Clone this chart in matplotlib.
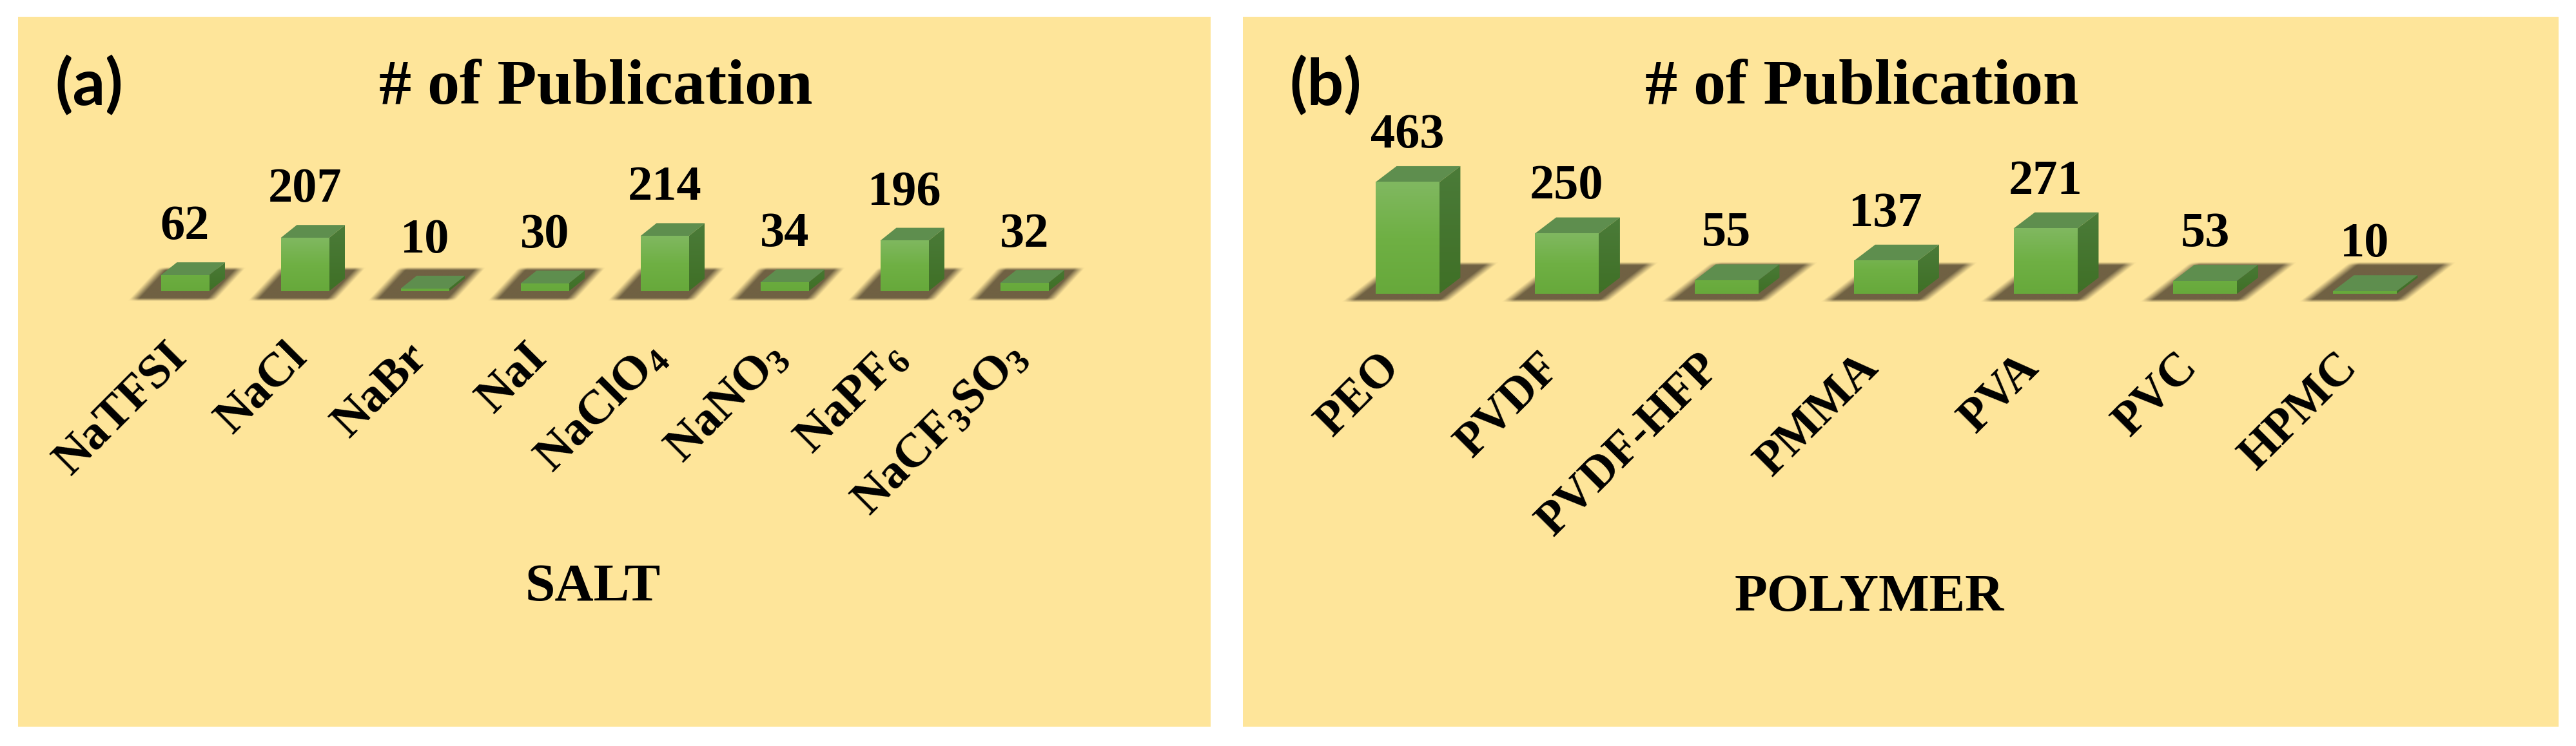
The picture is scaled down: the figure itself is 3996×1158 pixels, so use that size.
import numpy as np
import matplotlib
matplotlib.use('Agg')
import matplotlib.pyplot as plt
from matplotlib.colors import LinearSegmentedColormap, to_rgb
from matplotlib.patches import Polygon

W, H = 3996, 1158

# datos
salt_names = ['NaTFSI', 'NaCl', 'NaBr', 'NaI', r'NaClO$_{4}$', r'NaNO$_{3}$', r'NaPF$_{6}$', r'NaCF$_{3}$SO$_{3}$']
salt_counts = [62, 207, 10, 30, 214, 34, 196, 32]
polymer_names = ['PEO', 'PVDF', 'PVDF-HFP', 'PMMA', 'PVA', 'PVC', 'HPMC']
polymer_counts = [463, 250, 55, 137, 271, 53, 10]

plt.rcParams['font.family'] = ['Liberation Serif', 'DejaVu Serif']
plt.rcParams['font.weight'] = 'bold'
plt.rcParams['mathtext.default'] = 'regular'

PANEL = '#FEE59A'
TOP = '#5E8E4E'
SHADOW = '#6B5D40'
front_cmap = LinearSegmentedColormap.from_list('front', ['#67A93B', '#6FB044', '#80B860'])
side_cmap = LinearSegmentedColormap.from_list('side', ['#3F7026', '#4F7F3F'])

fig = plt.figure(figsize=(W / 100, H / 100), dpi=100, facecolor='white')


def draw_shadow(ax, i, shadow, blur_x, blur_y):
    # sombra difusa: paralelogramo con bordes suaves
    bl, br, tl, yb, yt = shadow
    shear = (tl - bl) / (yt - yb)
    xs = np.linspace(bl - blur_x, br + (yt - yb) * shear + blur_x, 160)
    ys = np.linspace(yt + blur_y, yb - blur_y, 90)
    xx, yy = np.meshgrid(xs, ys)
    u = xx - shear * (yy - yb)
    a_x = np.clip((u - bl + blur_x / 2) / blur_x, 0, 1) * np.clip((br - u + blur_x / 2) / blur_x, 0, 1)
    a_y = np.clip((yy - yb + blur_y / 2) / blur_y, 0, 1) * np.clip((yt - yy + blur_y / 2) / blur_y, 0, 1)
    img = np.zeros(xx.shape + (4,))
    img[..., :3] = to_rgb(SHADOW)
    img[..., 3] = 0.97 * a_x * a_y
    ax.imshow(img, extent=[i + xs[0], i + xs[-1], ys[-1], ys[0]], aspect='auto',
              interpolation='bilinear', zorder=1)


def draw_panel(names, counts, rect, x0, step, y0, scale, width, depth_x, depth_y,
               shadow, blur_x, blur_y, label_gap, tick_dx, tick_y, tick_size, value_size):
    left, top, right, bottom = rect
    ax = fig.add_axes([left / W, 1 - bottom / H, (right - left) / W, (bottom - top) / H])
    ax.set_facecolor(PANEL)
    for s in ax.spines.values():
        s.set_visible(False)
    ax.set_xticks([])
    ax.set_yticks([])

    for i, (name, v) in enumerate(zip(names, counts)):
        draw_shadow(ax, i, shadow, blur_x, blur_y)

        x1, x2 = i - width / 2, i + width / 2
        # cara superior
        ax.add_patch(Polygon([(x1, v), (x2, v), (x2 + depth_x, v + depth_y), (x1 + depth_x, v + depth_y)],
                             closed=True, facecolor=TOP, edgecolor='none', zorder=2))
        # cara lateral con degradado
        side = Polygon([(x2, 0), (x2 + depth_x, depth_y), (x2 + depth_x, v + depth_y), (x2, v)],
                       closed=True, facecolor='none', edgecolor='none', zorder=2)
        ax.add_patch(side)
        im = ax.imshow(np.linspace(0.75, 0, 64).reshape(-1, 1) * min(1, v / 100 + 0.3), cmap=side_cmap, vmin=0, vmax=1,
                       extent=[x2, x2 + depth_x, 0, v + depth_y], aspect='auto', zorder=2)
        im.set_clip_path(side)
        # cara frontal con degradado
        grad = np.linspace(min(1, v / 200), 0, 64).reshape(-1, 1)
        ax.imshow(grad, cmap=front_cmap, vmin=0, vmax=1, extent=[x1, x2, 0, v], aspect='auto', zorder=3)

        ax.text(i, v + depth_y + label_gap, str(v), ha='center', va='baseline', fontsize=value_size, zorder=4)
        ax.text(i + tick_dx, tick_y, name, rotation=45, rotation_mode='anchor', ha='right', va='baseline',
                fontsize=tick_size, zorder=4)

    ax.set_xlim((left - x0) / step, (right - x0) / step)
    ax.set_ylim((y0 - bottom) / scale, (y0 - top) / scale)
    return ax


draw_panel(salt_names, salt_counts, (28, 26, 1878, 1128), x0=287, step=186, y0=452, scale=0.4,
           width=0.403, depth_x=0.134, depth_y=50,
           shadow=(-0.43, 0.22, -0.19, -33, 88), blur_x=0.08, blur_y=12, label_gap=90,
           tick_dx=0.03, tick_y=-262, tick_size=54, value_size=55)
draw_panel(polymer_names, polymer_counts, (1928, 26, 3969, 1128), x0=2183, step=247.5, y0=456, scale=0.3737,
           width=0.4, depth_x=0.133, depth_y=67,
           shadow=(-0.37, 0.23, -0.07, -31, 124), blur_x=0.07, blur_y=13, label_gap=78,
           tick_dx=-0.035, tick_y=-313, tick_size=53, value_size=55)


def put(x, y, s, **kw):
    fig.text(x / W, 1 - y / H, s, **kw)


put(924, 161, '# of Publication', fontsize=72, ha='center', va='baseline')
put(2888, 161, '# of Publication', fontsize=72, ha='center', va='baseline')
put(920, 932, 'SALT', fontsize=60, ha='center', va='baseline')
put(2900, 948, 'POLYMER', fontsize=60, ha='center', va='baseline')
put(138, 133, '(a)', fontsize=72, ha='center', va='center', family=['Lato', 'DejaVu Sans'])
put(2056, 133, '(b)', fontsize=72, ha='center', va='center', family=['Lato', 'DejaVu Sans'])

fig.savefig('out.png', dpi=100, facecolor='white')
